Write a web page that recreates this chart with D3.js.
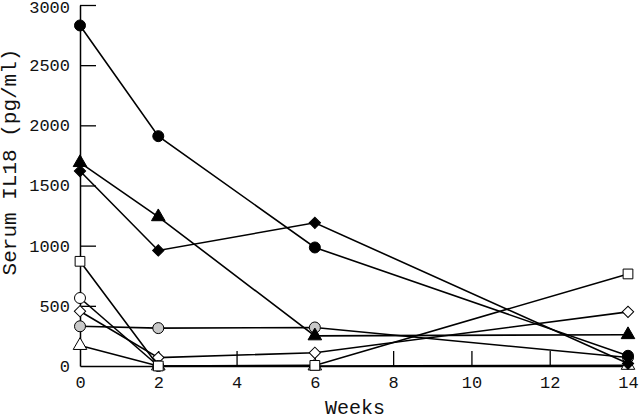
<!DOCTYPE html>
<html><head><meta charset="utf-8">
<script src="https://cdn.jsdelivr.net/npm/d3@7"></script>
<style>body{margin:0;background:#fff}svg{display:block}</style>
</head><body>
<script>
const weeks = [0, 2, 6, 14];
const xTicks = [0, 2, 4, 6, 8, 10, 12, 14];
const yTicks = [0, 500, 1000, 1500, 2000, 2500, 3000];
const filledCircle   = [2830, 1910, 985, 85];
const filledTriangle = [1690, 1240, 250, 260];
const filledDiamond  = [1620, 960, 1190, 20];
const openSquare     = [870, 0, 5, 765];
const openCircle     = [565, 0];
const openDiamond    = [455, 70, 110, 450];
const greyCircle     = [330, 315, 320, 70];
const openTriangle   = [170, 0, 0, 5];

const series = [
  {v: filledCircle, shape: "circle", fill: "#000"},
  {v: filledTriangle, shape: "triangle", fill: "#000"},
  {v: filledDiamond, shape: "diamond", fill: "#000"},
  {v: openSquare, shape: "square", fill: "#fff"},
  {v: openCircle, shape: "circle", fill: "#fff"},
  {v: openDiamond, shape: "diamond", fill: "#fff"},
  {v: greyCircle, shape: "circle", fill: "#c8c8c8"},
  {v: openTriangle, shape: "triangle", fill: "#fff"}
];

const W = 640, H = 419;
const svg = d3.select("body").append("svg").attr("width", W).attr("height", H);
const x = d3.scaleLinear().domain([0, 14]).range([80, 628]);
const y = d3.scaleLinear().domain([0, 3000]).range([366, 5]);
const font = "'Liberation Mono', 'Courier New', monospace";

// axes
const xAxis = d3.axisBottom(x).tickValues(xTicks).tickFormat(d3.format("d")).tickSizeInner(-15).tickSizeOuter(0);
const yAxis = d3.axisLeft(y).tickValues(yTicks).tickFormat(d3.format("d")).tickSizeInner(-16).tickSizeOuter(0).tickPadding(10);
const gx = svg.append("g").attr("transform", `translate(0,${y(0)})`).call(xAxis);
const gy = svg.append("g").attr("transform", `translate(${x(0)},0)`).call(yAxis);
[gx, gy].forEach(g => {
  g.select(".domain").attr("stroke", "#000").attr("stroke-width", 1.5);
  g.selectAll(".tick line").attr("stroke", "#000").attr("stroke-width", 1.3);
  g.selectAll(".tick text").attr("font-family", font).attr("font-size", 17).attr("fill", "#111");
});
gx.selectAll(".tick").filter(d => d === 0).select("line").remove();
gy.selectAll(".tick").filter(d => d === 0).select("line").remove();
gy.selectAll(".tick").filter(d => d === 3000).select("text").attr("y", 2);
gx.selectAll(".tick text").attr("dy", "0.71em").attr("y", 10);

// lines
const line = d3.line().x((d, i) => x(weeks[i])).y(d => y(d));
series.forEach(s => {
  svg.append("path").datum(s.v).attr("d", line)
    .attr("fill", "none").attr("stroke", "#000").attr("stroke-width", 1.6);
});
// markers
const sym = {circle: d3.symbolCircle, triangle: d3.symbolTriangle, diamond: d3.symbolSquare, square: d3.symbolSquare};
const size = {circle: 95, triangle: 80, diamond: 64, square: 95};
const rot = {circle: 0, triangle: 0, diamond: 45, square: 0};
series.slice().reverse().forEach(s => {
  svg.append("g").selectAll("path").data(s.v).join("path")
    .attr("transform", (d, i) => `translate(${x(weeks[i])},${y(d)}) rotate(${rot[s.shape]})`)
    .attr("d", d3.symbol().type(sym[s.shape]).size(size[s.shape]))
    .attr("fill", s.fill).attr("stroke", "#000").attr("stroke-width", 1);
});

// axis titles
svg.append("text").attr("x", 355).attr("y", 414).attr("text-anchor", "middle")
  .attr("font-family", font).attr("font-size", 20).attr("fill", "#111").text("Weeks");
svg.append("text").attr("transform", "translate(16,162) rotate(-90)").attr("text-anchor", "middle")
  .attr("font-family", font).attr("font-size", 21).attr("fill", "#111").text("Serum IL18 (pg/ml)");
</script>
</body></html>
